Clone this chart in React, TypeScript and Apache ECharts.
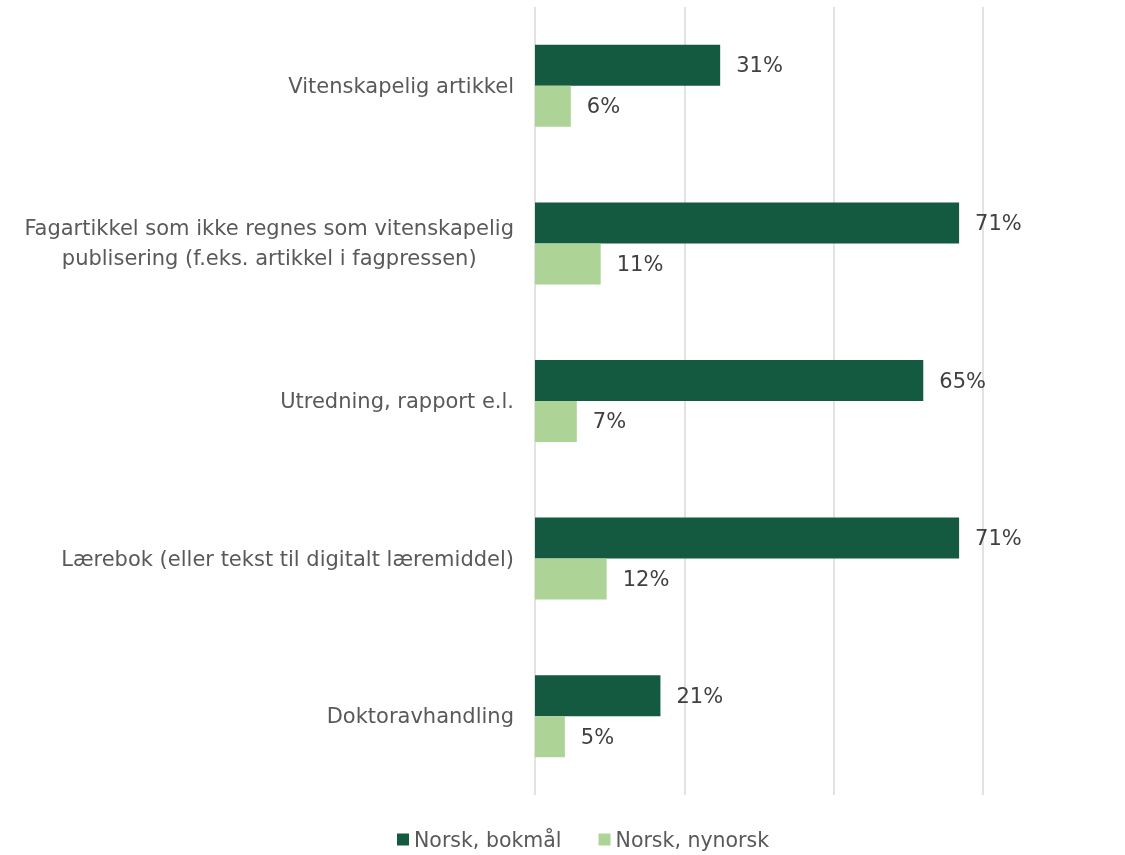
import React, { useEffect, useRef } from "react";
import * as echarts from "echarts";

const categories = [
  "Vitenskapelig artikkel",
  "Fagartikkel som ikke regnes som vitenskapelig\npublisering (f.eks. artikkel i fagpressen)",
  "Utredning, rapport e.l.",
  "Lærebok (eller tekst til digitalt læremiddel)",
  "Doktoravhandling",
];
const bokmal = [31, 71, 65, 71, 21];
const nynorsk = [6, 11, 7, 12, 5];
const seriesNames = ["Norsk, bokmål", "Norsk, nynorsk"];

export default function App() {
  const ref = useRef<HTMLDivElement>(null);
  useEffect(() => {
    const chart = echarts.init(ref.current!, null, { renderer: "svg" });
    const font = "'DejaVu Sans', Verdana, sans-serif";
    const labelCfg = {
      show: true,
      position: "right",
      distance: 16,
      formatter: (p: any) => p.value + "%",
      color: "#404040",
      fontSize: 21,
      fontFamily: font,
    };
    chart.setOption({
      animation: false,
      textStyle: { fontFamily: font },
      grid: { left: 535, right: 142, top: 7, bottom: 60, containLabel: false },
      legend: {
        left: 392,
        top: 824,
        itemWidth: 12,
        itemHeight: 12,
        itemGap: 37,
        icon: "rect",
        textStyle: { color: "#595959", fontSize: 20.5, fontFamily: font },
        data: seriesNames,
      },
      xAxis: {
        type: "value",
        min: 0,
        max: 75,
        interval: 25,
        axisLabel: { show: false },
        axisLine: { show: false },
        axisTick: { show: false },
        splitLine: { lineStyle: { color: "#d9d9d9", width: 1.5 } },
      },
      yAxis: {
        type: "category",
        inverse: true,
        data: categories,
        axisLine: { show: false },
        axisTick: { show: false },
        axisLabel: {
          margin: 21,
          color: "#595959",
          fontSize: 21,
          fontFamily: font,
          lineHeight: 30,
          align: "right",
          formatter: (v: string) =>
            v.indexOf("\n") >= 0
              ? v.split("\n").map((l) => "{c|" + l + "}").join("\n")
              : v,
          rich: {
            c: {
              align: "center",
              color: "#595959",
              fontSize: 21,
              fontFamily: font,
              lineHeight: 30,
            },
          },
        },
      },
      series: [
        {
          name: seriesNames[0],
          type: "bar",
          data: bokmal,
          barGap: "0%",
          barCategoryGap: "48%",
          itemStyle: { color: "#145A41" },
          label: labelCfg,
        },
        {
          name: seriesNames[1],
          type: "bar",
          data: nynorsk,
          barGap: "0%",
          barCategoryGap: "48%",
          itemStyle: { color: "#AED396" },
          label: labelCfg,
        },
      ],
    });
    return () => chart.dispose();
  }, []);
  return (
    <div
      ref={ref}
      style={{ position: "fixed", left: 0, top: 0, width: 1125, height: 855 }}
    />
  );
}
